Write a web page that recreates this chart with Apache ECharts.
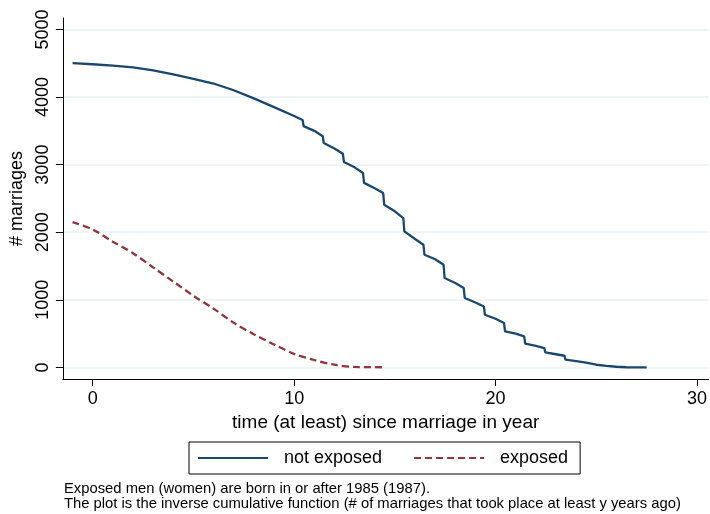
<!DOCTYPE html>
<html>
<head>
<meta charset="utf-8">
<script src="https://cdn.jsdelivr.net/npm/echarts@6/dist/echarts.min.js"></script>
<style>
html,body{margin:0;padding:0;background:#fff;}
#chart{width:710px;height:514px;}
</style>
</head>
<body>
<div id="chart"></div>
<script>
// Data
const seriesNames = ['not exposed', 'exposed'];
const xTicks = [0, 10, 20, 30];
const yTicks = [0, 1000, 2000, 3000, 4000, 5000];
const notExposed = [
  [-1.0,4500],[0,4485],[1,4465],[2,4440],[3,4395],[4,4335],[5,4270],[6,4200],[7,4100],[8,3980],
  [9,3850],[10,3720],[10.42,3660],[10.47,3570],[11,3500],[11.42,3420],[11.47,3320],[12,3240],
  [12.42,3160],[12.47,3040],[13,2960],[13.42,2876],[13.47,2730],[14,2650],[14.42,2580],[14.47,2407],
  [15,2310],[15.42,2210],[15.47,2012],[16,1900],[16.42,1815],[16.47,1667],[17,1600],[17.42,1519],
  [17.47,1322],[18,1250],[18.42,1174],[18.47,1027],[19,960],[19.42,902],[19.47,780],[20,720],
  [20.42,657],[20.47,533],[21,500],[21.42,459],[21.47,351],[22,320],[22.42,287],[22.47,222],
  [23,195],[23.42,173],[23.47,114],[24,95],[24.42,74],[24.47,55],[25,40],[25.5,22],[26,10],
  [26.5,3],[27.5,0]
];
const exposed = [
  [-1,2150],[0,2040],[1,1860],[2,1690],[3,1480],[4,1270],[5,1060],[6,870],[7,660],[8,490],
  [9,340],[10,200],[11,110],[12,40],[13,8],[14.5,3]
];
const xTitle = 'time (at least) since marriage in year';
const yTitle = '# marriages';
const notes = [
  'Exposed men (women) are born in or after 1985 (1987).',
  'The plot is the inverse cumulative function (# of marriages that took place at least y years ago)'
];

const FONT = '"Liberation Sans", Arial, Helvetica, sans-serif';
const chart = echarts.init(document.getElementById('chart'), null, {renderer: 'canvas'});
chart.setOption({
  animation: false,
  backgroundColor: '#ffffff',
  grid: {left: 62, right: 1, top: 18, bottom: 135, containLabel: false},
  xAxis: {
    type: 'value',
    min: -1.48, max: 30.57,
    name: xTitle,
    nameLocation: 'middle',
    nameGap: 21,
    nameTextStyle: {fontFamily: FONT, fontSize: 19, color: '#000'},
    axisLine: {onZero: false, lineStyle: {color: '#000', width: 1}},
    axisTick: {show: true, length: 7, customValues: xTicks, lineStyle: {color: '#000'}},
    axisLabel: {customValues: xTicks, margin: 11, fontFamily: FONT, fontSize: 18, color: '#000'},
    splitLine: {show: false}
  },
  yAxis: {
    type: 'value',
    min: -171, max: 5169,
    name: yTitle,
    nameLocation: 'middle',
    nameGap: 27,
    nameRotate: 90,
    nameTextStyle: {fontFamily: FONT, fontSize: 18, color: '#000'},
    axisLine: {show: true, onZero: false, lineStyle: {color: '#000', width: 1}},
    axisTick: {show: true, length: 7, customValues: yTicks, lineStyle: {color: '#000'}},
    axisLabel: {customValues: yTicks, rotate: 90, margin: 11, fontFamily: FONT, fontSize: 18, color: '#000',
      formatter: v => String(v)},
    splitLine: {show: true, lineStyle: {color: '#eaf2f3', width: 1.5}}
  },
  legend: {
    data: seriesNames,
    left: 189, top: 442,
    orient: 'horizontal',
    borderColor: '#000', borderWidth: 1,
    padding: [7, 12, 7, 8],
    itemWidth: 70, itemHeight: 14,
    itemGap: 31,
    itemStyle: {opacity: 0},
    textStyle: {fontFamily: FONT, fontSize: 18, color: '#000', padding: [0, 0, 0, 11]}
  },
  series: [
    {
      name: seriesNames[0], type: 'line', data: notExposed, symbol: 'none',
      lineStyle: {color: '#1a476f', width: 2.3}, itemStyle: {color: '#1a476f'}
    },
    {
      name: seriesNames[1], type: 'line', data: exposed, symbol: 'none', smooth: 0.3,
      lineStyle: {color: '#90353b', width: 2.3, type: [7, 4]}, itemStyle: {color: '#90353b'}
    }
  ],
  graphic: notes.map((t, i) => ({
    type: 'text', left: 64, top: 481 + i * 15,
    style: {text: t, fontFamily: FONT, fontSize: 14.8, fill: '#000'}
  }))
});
</script>
</body>
</html>
